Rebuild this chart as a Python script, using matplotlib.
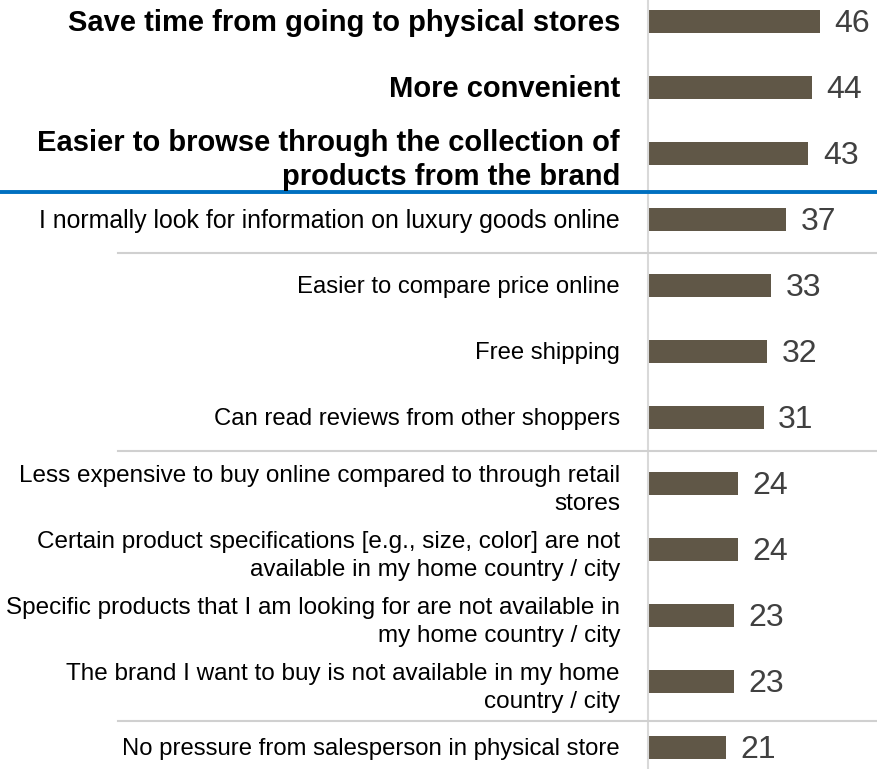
import matplotlib
matplotlib.use('Agg')
import matplotlib.pyplot as plt
from matplotlib.transforms import blended_transform_factory

plt.rcParams['font.family'] = ['Liberation Sans', 'DejaVu Sans']

labels = [
    'Save time from going to physical stores',
    'More convenient',
    'Easier to browse through the collection of\nproducts from the brand',
    'I normally look for information on luxury goods online',
    'Easier to compare price online',
    'Free shipping',
    'Can read reviews from other shoppers',
    'Less expensive to buy online compared to through retail\nstores',
    'Certain product specifications [e.g., size, color] are not\navailable in my home country / city',
    'Specific products that I am looking for are not available in\nmy home country / city',
    'The brand I want to buy is not available in my home\ncountry / city',
    'No pressure from salesperson in physical store',
]
values = [46, 44, 43, 37, 33, 32, 31, 24, 24, 23, 23, 21]
n_bold = 3

bar_color = '#605747'

fig = plt.figure(figsize=(8.77, 7.69), dpi=100)
ax = fig.add_axes([648 / 877, 0, 1 - 648 / 877, 1])

ypos = list(range(len(values)))
ax.barh(ypos, values, height=0.35, color=bar_color, left=0)
ax.set_xlim(0, 61.4)
ax.set_ylim(11.32, -0.33)
ax.axis('off')

for y, v in zip(ypos, values):
    ax.text(v + 3.9, y + 0.03, str(v), va='center', ha='left', fontsize=23, color='#404040')

# category labels to the left of the bars
trans = blended_transform_factory(fig.transFigure, ax.transData)
for i, (y, lab) in enumerate(zip(ypos, labels)):
    bold = i < n_bold
    two_line = '\n' in lab
    if bold:
        size = 21
    elif two_line:
        size = 17.5
    elif i == n_bold:
        size = 17.9
    else:
        size = 17.2
    ax.text(620 / 877, y + (0.09 if two_line else 0.02), lab, transform=trans,
            ha='right', va='center', multialignment='right',
            fontsize=size, fontweight='bold' if bold else 'normal',
            color='black', linespacing=1.28 if bold else 1.36)

# axis line and group separators
ax.plot([0, 0], [-0.33, 11.32], color='#D9D9D9', lw=1.5, clip_on=False)
ax.plot([0, 1], [2.58, 2.58], transform=trans, color='#0070C0', lw=2.8, clip_on=False)
for y in [3.5, 6.5, 10.6]:
    ax.plot([118 / 877, 1], [y, y], transform=trans, color='#D0D0D0', lw=1.5, clip_on=False)

fig.savefig('out.png', dpi=100)
